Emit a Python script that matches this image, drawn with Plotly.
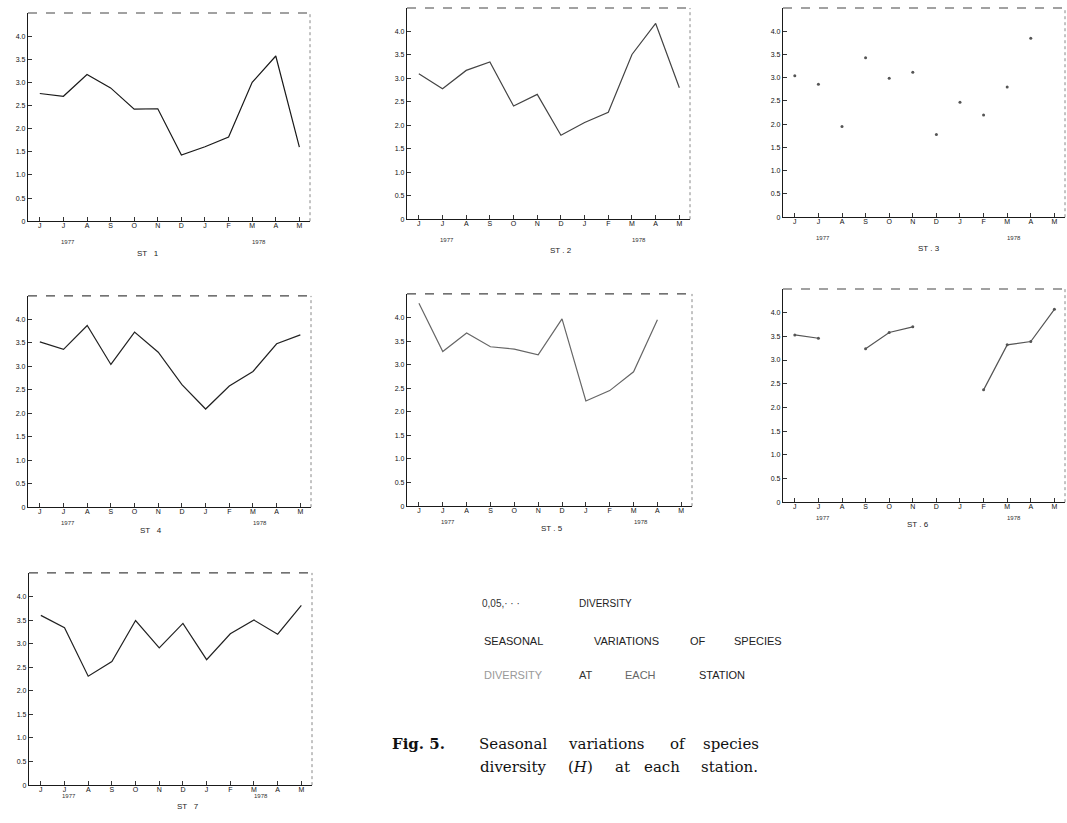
import plotly.graph_objects as go

W, H = 1067, 823

months = ["J", "J", "A", "S", "O", "N", "D", "J", "F", "M", "A", "M"]
y_ticks = [0, 0.5, 1.0, 1.5, 2.0, 2.5, 3.0, 3.5, 4.0]
y_ticktext = ["0", "0.5", "1.0", "1.5", "2.0", "2.5", "3.0", "3.5", "4.0"]

st1 = [2.76, 2.70, 3.17, 2.88, 2.42, 2.43, 1.43, 1.61, 1.82, 3.00, 3.57, 1.60]
st2 = [3.10, 2.78, 3.17, 3.35, 2.41, 2.66, 1.79, 2.06, 2.28, 3.51, 4.17, 2.80]
st3 = [3.04, 2.86, 1.95, 3.43, 2.99, 3.12, 1.78, 2.47, 2.20, 2.80, 3.85, None]
st4 = [3.52, 3.36, 3.87, 3.04, 3.73, 3.30, 2.61, 2.09, 2.58, 2.89, 3.48, 3.67]
st5 = [4.30, 3.28, 3.67, 3.38, 3.33, 3.21, 3.97, 2.23, 2.45, 2.85, 3.95, None]
st6 = [3.53, 3.46, None, 3.24, 3.58, 3.70, None, None, 2.37, 3.32, 3.39, 4.07]
st7 = [3.60, 3.34, 2.31, 2.62, 3.49, 2.91, 3.43, 2.66, 3.21, 3.50, 3.20, 3.81]

station_names = ["ST   1", "ST . 2", "ST . 3", "ST   4", "ST . 5", "ST . 6", "ST   7"]
series = [st1, st2, st3, st4, st5, st6, st7]

# panel boxes in pixels: left, right, top, bottom
boxes = [
    (28, 310, 13, 222),
    (407, 690, 8, 220),
    (783, 1065, 8, 218),
    (28, 311, 297, 509),
    (407, 692, 295, 508),
    (783, 1065, 290, 504),
    (29, 312, 575, 788),
]
# station label position: x in data units, y offset px below axis
st_pos = [(4.6, 26), (6.0, 25), (5.7, 25), (4.7, 23), (5.6, 22), (5.2, 22), (6.2, 28)]

modes = ["lines", "lines", "markers", "lines", "lines", "lines+markers", "lines"]
colors = ["#1a1a1a", "#444444", "#555555", "#222222", "#666666", "#555555", "#222222"]

x_idx = list(range(len(months)))
XR = [-0.5, 11.45]
YR = [0, 4.5]

fig = go.Figure()
annotations = []
shapes = []

for i, (vals, box) in enumerate(zip(series, boxes)):
    n = i + 1
    xa = "x" if n == 1 else f"x{n}"
    ya = "y" if n == 1 else f"y{n}"
    fig.add_trace(go.Scatter(
        x=x_idx, y=vals, mode=modes[i], xaxis=xa, yaxis=ya,
        line=dict(color=colors[i], width=1.2),
        marker=dict(color=colors[i], size=3),
        connectgaps=False, showlegend=False, hoverinfo="skip"))
    l, r, t, b = box
    axis_common = dict(showgrid=False, zeroline=False, showline=True,
                       linecolor="#1a1a1a", linewidth=1.4, ticks="inside",
                       ticklen=4, tickcolor="#333", tickwidth=1,
                       tickfont=dict(family="Liberation Sans", size=7, color="#111"))
    fig.layout[("xaxis" if n == 1 else f"xaxis{n}")] = dict(
        domain=[l / W, r / W], range=XR, anchor=ya, ticklabelstandoff=-3,
        tickmode="array", tickvals=x_idx, ticktext=months, **axis_common)
    fig.layout[("yaxis" if n == 1 else f"yaxis{n}")] = dict(
        domain=[1 - b / H, 1 - t / H], range=YR, anchor=xa,
        tickmode="array", tickvals=y_ticks, ticktext=y_ticktext, **axis_common)
    # top and right border (faint, broken in the scan)
    shapes.append(dict(type="line", xref=f"{xa} domain", yref=f"{ya} domain",
                       x0=0, x1=1, y0=1, y1=1,
                       line=dict(color="#444", width=1.1, dash="dash")))
    shapes.append(dict(type="line", xref=f"{xa} domain", yref=f"{ya} domain",
                       x0=1, x1=1, y0=0, y1=1,
                       line=dict(color="#888", width=1, dash="dot")))
    # years
    annotations.append(dict(x=1.2, y=1 - (b + 16) / H, xref=xa, yref="paper",
                            text="1977", showarrow=False,
                            font=dict(family="Liberation Sans", size=6, color="#333")))
    annotations.append(dict(x=9.3, y=1 - (b + 16) / H, xref=xa, yref="paper",
                            text="1978", showarrow=False,
                            font=dict(family="Liberation Sans", size=6, color="#333")))
    sx, soff = st_pos[i]
    annotations.append(dict(x=sx, y=1 - (b + soff) / H, xref=xa, yref="paper",
                            text=station_names[i], showarrow=False,
                            font=dict(family="Liberation Sans", size=8, color="#222")))

def txt(px, py, s, size=11, family="Liberation Sans", color="#222", anchor="left"):
    annotations.append(dict(x=px / W, y=1 - py / H, xref="paper", yref="paper",
                            text=s, showarrow=False, xanchor=anchor, yanchor="middle",
                            font=dict(family=family, size=size, color=color)))

# typed block
txt(480, 606, "0,05,· · ·", 10, color="#333")
txt(577, 606, "DIVERSITY", 10, color="#222")
for px, w in [(482, "SEASONAL"), (592, "VARIATIONS"), (688, "OF"), (732, "SPECIES")]:
    txt(px, 643, w, 11)
for px, w, c in [(482, "DIVERSITY", "#999"), (577, "AT", "#333"), (623, "EACH", "#666"), (697, "STATION", "#222")]:
    txt(px, 677, w, 11, color=c)

# printed caption
txt(390, 747, "<b>Fig. 5.</b>", 15, family="DejaVu Serif", color="#111")
for px, w in [(477, "Seasonal"), (566, "variations"), (668, "of"), (701, "species")]:
    txt(px, 747, w, 15, family="DejaVu Serif", color="#111")
for px, w in [(478, "diversity"), (566, "(<i>H</i>)"), (613, "at"), (642, "each"), (699, "station.")]:
    txt(px, 770, w, 15, family="DejaVu Serif", color="#111")

fig.update_layout(width=W, height=H, margin=dict(l=0, r=0, t=0, b=0),
                  paper_bgcolor="white", plot_bgcolor="white",
                  annotations=annotations, shapes=shapes)

fig.write_html("out.html", config={"displayModeBar": False},
               post_script="document.body.style.margin='0px';")
